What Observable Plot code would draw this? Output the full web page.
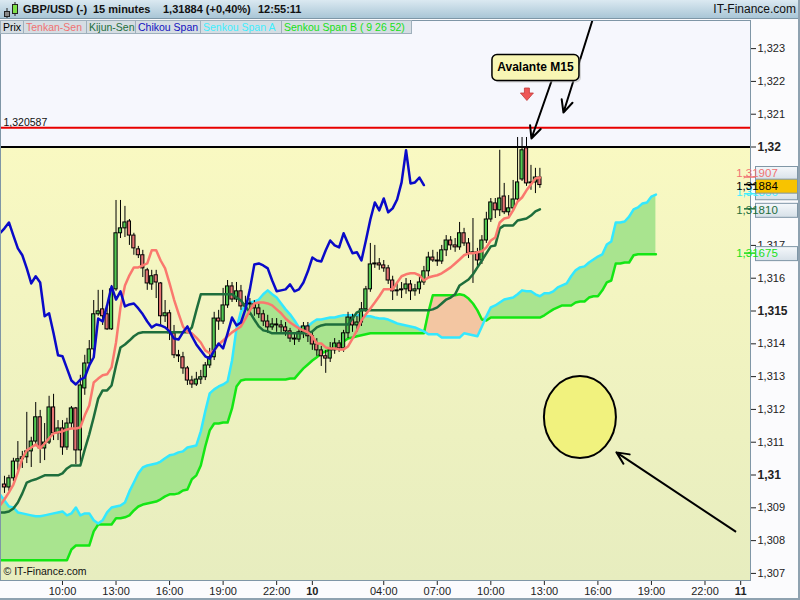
<!DOCTYPE html>
<html>
<head>
<meta charset="utf-8">
<script src="https://cdn.jsdelivr.net/npm/d3@7"></script>
<script src="https://cdn.jsdelivr.net/npm/@observablehq/plot@0.6"></script>
<style>
  body { margin: 0; background: #fff; font-family: "Liberation Sans", Arial, sans-serif; }
  #wrap { position: relative; width: 800px; height: 600px; overflow: hidden; background: #fbfbfd; }
  #head { position: absolute; left: 0; top: 0; width: 800px; height: 19px; box-sizing: border-box;
          background: linear-gradient(#dbe9f1, #a9c6d6); border-bottom: 1px solid #7e97a7;
          font-size: 11px; font-weight: bold; color: #111; }
  #head span { position: absolute; top: 3px; white-space: pre; }
  #head .site { right: 4px; font-weight: normal; font-size: 12px; top: 2px; }
  #head svg { position: absolute; left: 2px; top: 2px; }
  #legend { position: absolute; left: 0; top: 20px; display: flex; z-index: 2; }
  #legend span { box-sizing: border-box; height: 14px; line-height: 13px; font-size: 10.5px; padding-left: 2px;
                 background: #d5dde3; border: 1px solid #9fb0bc; border-left: none; white-space: pre; }
  #legend span:first-child { border-left: 1px solid #9fb0bc; }
  #chart { position: absolute; left: 0; top: 20px; }
  #edge { position: absolute; left: 0; top: 0; width: 800px; height: 600px; box-sizing: border-box;
          border-right: 2px solid #8fa2b0; border-bottom: 2px solid #8fa2b0; pointer-events: none; }
</style>
</head>
<body>
<div id="wrap">
  <div id="head">
    <svg width="16" height="16">
      <line x1="5" y1="6" x2="5" y2="16" stroke="#222"/>
      <rect x="2.5" y="9.5" width="5" height="5" fill="#888" stroke="#222"/>
      <line x1="13" y1="0" x2="13" y2="14" stroke="#222"/>
      <rect x="10.5" y="2.5" width="5" height="9" fill="#7ee04a" stroke="#222"/>
    </svg>
    <span style="left:23px">GBP/USD (-)</span>
    <span style="left:93px">15 minutes</span>
    <span style="left:163px">1,31884 (+0,40%)</span>
    <span style="left:258px">12:55:11</span>
    <span class="site">IT-Finance.com</span>
  </div>
  <div id="legend">
    <span style="width:24px;color:#000">Prix</span>
    <span style="width:63px;color:#f07272">Tenkan-Sen</span>
    <span style="width:49px;color:#1e6e3c">Kijun-Sen</span>
    <span style="width:65px;color:#1212c0">Chikou Span</span>
    <span style="width:81px;color:#3eeeff">Senkou Span A</span>
    <span style="width:130px;color:#18e018">Senkou Span B ( 9 26 52)</span>
  </div>
  <div id="chart"></div>
  <div id="edge"></div>
</div>
<script>
// 15 minute bars, GBP/USD, first bar 06:45 on the 9th (x unit = hours since the 9th 00:00)
const barStart = 6.75
const barStep = 0.25
const barTime = i => barStart + i * barStep

const open = [1.30971,1.30962,1.30990,1.31041,1.31048,1.31054,1.31072,1.31102,1.31176,1.31081,
  1.31099,1.31206,1.31127,1.31142,1.31084,1.31157,1.31203,1.31075,1.31264,1.31340,
  1.31383,1.31490,1.31505,1.31490,1.31444,1.31566,1.31737,1.31752,1.31773,1.31730,
  1.31688,1.31670,1.31624,1.31581,1.31609,1.31584,1.31484,1.31493,1.31432,1.31365,
  1.31359,1.31325,1.31288,1.31276,1.31291,1.31298,1.31334,1.31359,1.31477,1.31468,
  1.31517,1.31575,1.31535,1.31560,1.31514,1.31520,1.31520,1.31508,1.31490,1.31468,
  1.31450,1.31459,1.31456,1.31450,1.31438,1.31416,1.31413,1.31435,1.31453,1.31423,
  1.31398,1.31380,1.31362,1.31355,1.31380,1.31401,1.31386,1.31432,1.31480,1.31456,
  1.31465,1.31505,1.31566,1.31642,1.31645,1.31639,1.31630,1.31593,1.31560,1.31563,
  1.31566,1.31581,1.31560,1.31566,1.31587,1.31621,1.31663,1.31654,1.31651,1.31685,
  1.31715,1.31700,1.31694,1.31737,1.31706,1.31676,1.31679,1.31654,1.31715,1.31779,
  1.31828,1.31807,1.31849,1.31801,1.31813,1.31840,1.31901,1.31996,1.31889,1.31892,
  1.31907]
const high = [1.30996,1.30999,1.31051,1.31102,1.31072,1.31191,1.31115,1.31221,1.31197,1.31157,
  1.31240,1.31246,1.31166,1.31166,1.31173,1.31209,1.31206,1.31304,1.31365,1.31410,
  1.31532,1.31563,1.31563,1.31511,1.31578,1.31837,1.31837,1.31819,1.31779,1.31737,
  1.31697,1.31685,1.31630,1.31624,1.31624,1.31587,1.31532,1.31502,1.31456,1.31380,
  1.31374,1.31331,1.31301,1.31313,1.31319,1.31343,1.31386,1.31496,1.31502,1.31569,
  1.31593,1.31587,1.31587,1.31578,1.31545,1.31538,1.31532,1.31523,1.31502,1.31487,
  1.31477,1.31477,1.31471,1.31465,1.31447,1.31432,1.31447,1.31465,1.31465,1.31435,
  1.31416,1.31392,1.31380,1.31404,1.31416,1.31410,1.31441,1.31496,1.31490,1.31484,
  1.31526,1.31575,1.31706,1.31700,1.31660,1.31654,1.31639,1.31606,1.31584,1.31587,
  1.31599,1.31593,1.31581,1.31606,1.31636,1.31679,1.31685,1.31679,1.31700,1.31730,
  1.31727,1.31721,1.31770,1.31752,1.31721,1.31782,1.31691,1.31730,1.31801,1.31843,
  1.31843,1.31990,1.31889,1.31852,1.31898,1.32029,1.32029,1.32029,1.31944,1.31935,
  1.31935]
const low = [1.30944,1.30950,1.30980,1.31014,1.31020,1.31035,1.31023,1.31093,1.31035,1.31044,
  1.31093,1.31105,1.31105,1.31060,1.31075,1.31142,1.31032,1.31038,1.31243,1.31331,
  1.31374,1.31484,1.31456,1.31441,1.31441,1.31560,1.31721,1.31724,1.31700,1.31670,
  1.31660,1.31602,1.31563,1.31563,1.31538,1.31456,1.31465,1.31410,1.31355,1.31343,
  1.31307,1.31273,1.31264,1.31270,1.31276,1.31288,1.31325,1.31349,1.31441,1.31459,
  1.31508,1.31526,1.31526,1.31502,1.31496,1.31487,1.31484,1.31477,1.31453,1.31432,
  1.31441,1.31435,1.31432,1.31423,1.31404,1.31395,1.31404,1.31416,1.31404,1.31380,
  1.31362,1.31331,1.31310,1.31343,1.31368,1.31374,1.31374,1.31416,1.31435,1.31435,
  1.31453,1.31496,1.31557,1.31630,1.31624,1.31618,1.31581,1.31532,1.31545,1.31538,
  1.31551,1.31532,1.31545,1.31551,1.31578,1.31602,1.31648,1.31636,1.31642,1.31666,
  1.31685,1.31679,1.31685,1.31697,1.31660,1.31584,1.31636,1.31642,1.31706,1.31770,
  1.31782,1.31788,1.31794,1.31788,1.31807,1.31834,1.31895,1.31880,1.31868,1.31858,
  1.31874]
const close = [1.30962,1.30990,1.31041,1.31048,1.31054,1.31072,1.31102,1.31176,1.31081,1.31099,
  1.31206,1.31127,1.31142,1.31084,1.31157,1.31203,1.31075,1.31273,1.31340,1.31383,
  1.31490,1.31499,1.31484,1.31444,1.31566,1.31737,1.31752,1.31770,1.31730,1.31691,
  1.31670,1.31630,1.31584,1.31606,1.31587,1.31484,1.31493,1.31432,1.31365,1.31362,
  1.31325,1.31288,1.31276,1.31291,1.31298,1.31334,1.31359,1.31477,1.31468,1.31517,
  1.31575,1.31535,1.31560,1.31514,1.31520,1.31523,1.31508,1.31490,1.31468,1.31450,
  1.31459,1.31456,1.31450,1.31438,1.31416,1.31413,1.31435,1.31453,1.31423,1.31398,
  1.31380,1.31362,1.31355,1.31380,1.31401,1.31386,1.31432,1.31480,1.31456,1.31465,
  1.31505,1.31566,1.31642,1.31645,1.31639,1.31630,1.31593,1.31560,1.31563,1.31566,
  1.31581,1.31560,1.31566,1.31587,1.31621,1.31663,1.31654,1.31651,1.31685,1.31715,
  1.31700,1.31694,1.31737,1.31706,1.31676,1.31679,1.31654,1.31715,1.31779,1.31831,
  1.31807,1.31843,1.31801,1.31813,1.31840,1.31892,1.31990,1.31889,1.31892,1.31907,
  1.31884]

// Ichimoku lines, one value per bar starting one bar before the first candle
const tenkan = [1.30907,1.30926,1.30947,1.30971,1.31008,1.31051,1.31075,1.31084,1.31093,1.31081,
  1.31096,1.31112,1.31127,1.31130,1.31133,1.31139,1.31142,1.31142,1.31145,1.31182,
  1.31212,1.31282,1.31294,1.31304,1.31307,1.31328,1.31404,1.31511,1.31578,1.31609,
  1.31633,1.31633,1.31639,1.31645,1.31685,1.31685,1.31654,1.31630,1.31584,1.31535,
  1.31493,1.31453,1.31435,1.31432,1.31419,1.31404,1.31380,1.31371,1.31380,1.31398,
  1.31410,1.31423,1.31435,1.31444,1.31453,1.31477,1.31502,1.31523,1.31526,1.31526,
  1.31523,1.31517,1.31505,1.31493,1.31477,1.31465,1.31456,1.31447,1.31441,1.31435,
  1.31423,1.31401,1.31401,1.31389,1.31386,1.31386,1.31383,1.31383,1.31392,1.31416,
  1.31441,1.31471,1.31490,1.31508,1.31526,1.31545,1.31566,1.31566,1.31566,1.31587,
  1.31606,1.31612,1.31615,1.31615,1.31609,1.31593,1.31602,1.31606,1.31609,1.31615,
  1.31624,1.31633,1.31645,1.31657,1.31670,1.31676,1.31676,1.31679,1.31682,1.31694,
  1.31715,1.31724,1.31770,1.31782,1.31785,1.31807,1.31834,1.31846,1.31868,1.31886,
  1.31904,1.31907]
const kijun = [1.30886,1.30886,1.30889,1.30898,1.30916,1.30944,1.30977,1.30983,1.30987,1.30993,
  1.30999,1.30999,1.30999,1.30999,1.31005,1.31020,1.31029,1.31029,1.31029,1.31078,
  1.31124,1.31176,1.31233,1.31258,1.31258,1.31273,1.31334,1.31389,1.31398,1.31410,
  1.31423,1.31432,1.31435,1.31435,1.31435,1.31435,1.31435,1.31435,1.31435,1.31435,
  1.31435,1.31435,1.31435,1.31450,1.31502,1.31551,1.31551,1.31551,1.31551,1.31551,
  1.31551,1.31551,1.31551,1.31541,1.31532,1.31514,1.31496,1.31474,1.31453,1.31441,
  1.31438,1.31432,1.31432,1.31432,1.31432,1.31432,1.31432,1.31432,1.31432,1.31432,
  1.31438,1.31450,1.31456,1.31459,1.31459,1.31459,1.31459,1.31459,1.31459,1.31477,
  1.31496,1.31502,1.31502,1.31502,1.31502,1.31502,1.31502,1.31502,1.31502,1.31502,
  1.31502,1.31502,1.31502,1.31502,1.31502,1.31502,1.31502,1.31505,1.31511,1.31523,
  1.31535,1.31541,1.31551,1.31578,1.31587,1.31596,1.31612,1.31633,1.31654,1.31676,
  1.31697,1.31700,1.31752,1.31761,1.31761,1.31761,1.31776,1.31779,1.31782,1.31791,
  1.31804,1.31810]
// Senkou spans run 26 bars past the last candle
const senkouA = [1.30941,1.30922,1.30904,1.30901,1.30886,1.30883,1.30880,1.30877,1.30874,1.30874,
  1.30877,1.30880,1.30883,1.30886,1.30889,1.30877,1.30883,1.30901,1.30877,1.30883,
  1.30883,1.30862,1.30852,1.30862,1.30886,1.30901,1.30904,1.30907,1.30916,1.30950,
  1.30977,1.31005,1.31023,1.31029,1.31032,1.31035,1.31041,1.31051,1.31060,1.31063,
  1.31069,1.31072,1.31084,1.31087,1.31090,1.31133,1.31194,1.31249,1.31261,1.31270,
  1.31276,1.31285,1.31349,1.31447,1.31499,1.31517,1.31526,1.31529,1.31535,1.31551,
  1.31563,1.31551,1.31541,1.31523,1.31505,1.31490,1.31471,1.31450,1.31450,1.31453,
  1.31465,1.31474,1.31474,1.31477,1.31480,1.31480,1.31484,1.31487,1.31487,1.31487,
  1.31487,1.31487,1.31484,1.31484,1.31480,1.31477,1.31477,1.31474,1.31468,1.31462,
  1.31459,1.31456,1.31453,1.31450,1.31444,1.31438,1.31429,1.31429,1.31429,1.31419,
  1.31419,1.31419,1.31419,1.31419,1.31432,1.31429,1.31426,1.31423,1.31453,1.31484,
  1.31511,1.31517,1.31526,1.31535,1.31538,1.31541,1.31551,1.31563,1.31560,1.31560,
  1.31551,1.31545,1.31554,1.31554,1.31560,1.31572,1.31578,1.31584,1.31606,1.31624,
  1.31633,1.31636,1.31648,1.31657,1.31666,1.31673,1.31703,1.31712,1.31770,1.31770,
  1.31773,1.31788,1.31810,1.31816,1.31828,1.31831,1.31849,1.31855]
const senkouB = [1.30740,1.30740,1.30740,1.30740,1.30740,1.30740,1.30740,1.30740,1.30740,1.30740,
  1.30740,1.30740,1.30740,1.30740,1.30740,1.30740,1.30773,1.30785,1.30785,1.30785,
  1.30785,1.30828,1.30849,1.30849,1.30849,1.30849,1.30868,1.30868,1.30871,1.30877,
  1.30892,1.30904,1.30910,1.30913,1.30916,1.30919,1.30926,1.30935,1.30941,1.30941,
  1.30944,1.30953,1.30956,1.30987,1.30999,1.31029,1.31087,1.31136,1.31157,1.31157,
  1.31160,1.31160,1.31203,1.31270,1.31288,1.31291,1.31291,1.31291,1.31291,1.31291,
  1.31291,1.31291,1.31291,1.31291,1.31291,1.31294,1.31294,1.31310,1.31325,1.31337,
  1.31349,1.31359,1.31371,1.31377,1.31383,1.31392,1.31398,1.31407,1.31416,1.31419,
  1.31423,1.31426,1.31429,1.31432,1.31432,1.31432,1.31432,1.31432,1.31432,1.31432,
  1.31432,1.31432,1.31432,1.31432,1.31432,1.31432,1.31496,1.31548,1.31548,1.31548,
  1.31548,1.31548,1.31548,1.31551,1.31548,1.31538,1.31523,1.31502,1.31474,1.31471,
  1.31480,1.31480,1.31480,1.31480,1.31480,1.31480,1.31480,1.31480,1.31480,1.31480,
  1.31480,1.31480,1.31487,1.31496,1.31505,1.31511,1.31517,1.31517,1.31517,1.31526,
  1.31529,1.31529,1.31541,1.31545,1.31545,1.31563,1.31587,1.31593,1.31645,1.31645,
  1.31648,1.31648,1.31670,1.31673,1.31673,1.31673,1.31673,1.31673]
const chikouShift = 26

// horizontal levels drawn on the chart
const blackLevel = 1.32
const redLevel = 1.320587

// axes (1,318 and 1,319 sit under the price tags)
const xDomain = [6.527, 48.55]
const yDomain = [1.306784, 1.323857]
const xTicks = [10, 13, 16, 19, 22, 24, 28, 31, 34, 37, 40, 43, 46, 48]
const yTicks = [1.307, 1.308, 1.309, 1.31, 1.311, 1.312, 1.313, 1.314, 1.315, 1.316,
  1.317, 1.32, 1.321, 1.322, 1.323]

// right axis price tags
const tagValues = [1.31907, 1.31856, 1.31810, 1.31675, 1.31884]
const tagLabels = ["1,31907", "1,31856", "1,31810", "1,31675", "1,31884"]

// drawn annotations (hours, price)
const arrowX1 = [37.51, 39.69, 47.70]
const arrowY1 = [1.32218, 1.323857, 1.30828]
const arrowX2 = [36.275, 38.07, 41.04]
const arrowY2 = [1.32026, 1.32105, 1.31069]
const calloutAt = [36.50, 1.32244]
const calloutText = "Avalante M15"
const redArrowAt = [36.05, 1.32157]
const circleAt = [39.02, 1.31175]

const bars = open.map((o, i) => ({t: barTime(i), o, h: high[i], l: low[i], c: close[i]}))
const tenkanLine = tenkan.map((v, k) => ({t: barTime(k - 1), v}))
const kijunLine = kijun.map((v, k) => ({t: barTime(k - 1), v}))
const cloud = senkouA.map((a, k) => ({t: barTime(k - 1), a, b: senkouB[k]}))
const chikou = close.map((v, i) => ({i, t: barTime(i - chikouShift), v})).filter(d => d.i >= chikouShift - 1)
const arrows = arrowX1.map((x, k) => ({x1: x, y1: arrowY1[k], x2: arrowX2[k], y2: arrowY2[k]}))

const fmtHour = h => h % 24 === 0 ? String(9 + h / 24) : String(h % 24).padStart(2, "0") + ":00"
const fmtPrice = v => d3.format(".3~f")(v).replace(".", ",")

const chart = Plot.plot({
  width: 800,
  height: 580,
  marginTop: 0,
  marginLeft: 0,
  marginRight: 50,
  marginBottom: 20,
  style: {
    fontFamily: '"Liberation Sans", Arial, sans-serif',
    fontSize: "11px",
    color: "#222",
    background: "#fbfbfd",
  },
  x: {domain: xDomain, ticks: xTicks, tickFormat: fmtHour, tickSize: 5, tickPadding: 2, label: null},
  y: {domain: yDomain, axis: "right", ticks: yTicks, tickFormat: fmtPrice, tickSize: 5, tickPadding: 2, label: null},
  marks: [
    Plot.rect([blackLevel], {x1: xDomain[0], x2: xDomain[1], y1: d => d, y2: yDomain[1], fill: "#f6f7fd"}),
    Plot.rect([blackLevel], {x1: xDomain[0], x2: xDomain[1], y1: yDomain[0], y2: d => d, fill: "url(#zone)"}),
    // cloud: green where span A is above span B, peach where B is above A
    Plot.areaY(cloud, {x: "t", y1: "b", y2: d => Math.max(d.a, d.b), fill: "#a9e48f", clip: true}),
    Plot.areaY(cloud, {x: "t", y1: "a", y2: d => Math.max(d.a, d.b), fill: "#f3c6a2", clip: true}),
    Plot.line(cloud, {x: "t", y: "b", stroke: "#14e614", strokeWidth: 2.5, clip: true}),
    Plot.line(cloud, {x: "t", y: "a", stroke: "#33e8ff", strokeWidth: 2.5, clip: true}),
    Plot.ruleY([redLevel], {stroke: "#e80000", strokeWidth: 2}),
    Plot.ruleY([blackLevel], {stroke: "#000", strokeWidth: 2}),
    Plot.text([redLevel], {y: d => d, frameAnchor: "left", text: d => String(d).replace(".", ","),
      textAnchor: "start", dx: 3, dy: -5.5, fontSize: 10.5, fill: "#111"}),
    // candles
    Plot.ruleX(bars, {x: "t", y1: "l", y2: "h", stroke: "#000", strokeWidth: 1}),
    Plot.rect(bars, {filter: d => d.c >= d.o, x1: d => d.t - 0.09, x2: d => d.t + 0.09, y1: "o", y2: "c",
      fill: "#52c852", stroke: "#000", strokeWidth: 1}),
    Plot.rect(bars, {filter: d => d.c < d.o, x1: d => d.t - 0.09, x2: d => d.t + 0.09, y1: "o", y2: "c",
      fill: "#e67474", stroke: "#000", strokeWidth: 1}),
    Plot.line(kijunLine, {x: "t", y: "v", stroke: "#1e6e3c", strokeWidth: 2.5, clip: true}),
    Plot.line(tenkanLine, {x: "t", y: "v", stroke: "#fa786e", strokeWidth: 2.5, clip: true}),
    Plot.line(chikou, {x: "t", y: "v", stroke: "#0a0ac8", strokeWidth: 2.5, clip: true}),
    Plot.arrow(arrows, {x1: "x1", y1: "y1", x2: "x2", y2: "y2", stroke: "#000", strokeWidth: 2,
      headLength: 10, headAngle: 50, bend: 0}),
    Plot.text(["© IT-Finance.com"], {frameAnchor: "bottom-left", text: d => d, textAnchor: "start",
      dx: 3, dy: -6, fontSize: 10.5, fill: "#111"}),
    Plot.frame({stroke: "#7f96a6"}),
  ],
})

const svg = d3.select(chart)
const defs = svg.insert("defs", ":first-child")
const zone = defs.append("linearGradient").attr("id", "zone").attr("x1", 0).attr("y1", 0).attr("x2", 0).attr("y2", 1)
zone.append("stop").attr("offset", "0%").attr("stop-color", "#f9f9c2")
zone.append("stop").attr("offset", "100%").attr("stop-color", "#e7edbf")
const tagbg = defs.append("linearGradient").attr("id", "tagbg").attr("x1", 0).attr("y1", 0).attr("x2", 0).attr("y2", 1)
tagbg.append("stop").attr("offset", "0%").attr("stop-color", "#f5f8fb")
tagbg.append("stop").attr("offset", "100%").attr("stop-color", "#d6e0e8")

// bold axis labels on round levels and day changes
svg.selectAll("text").each(function () {
  const s = this.textContent
  if (["1,31", "1,315", "1,32"].includes(s)) d3.select(this).attr("font-weight", "bold").attr("font-size", 12)
  if (["10", "11"].includes(s)) d3.select(this).attr("font-weight", "bold")
})

const sx = chart.scale("x")
const sy = chart.scale("y")
const px = v => sx.apply(v)
const py = v => sy.apply(v)

// yellow circle
svg.append("ellipse")
  .attr("cx", px(circleAt[0])).attr("cy", py(circleAt[1]))
  .attr("rx", 36).attr("ry", 41)
  .attr("fill", "#f1f27e").attr("stroke", "#000").attr("stroke-width", 2)

// small red arrow pointing down
{
  const x = px(redArrowAt[0]), y = py(redArrowAt[1])
  svg.append("path")
    .attr("d", `M${x - 2.5},${y - 7}h5v5h4l-6.5,7.5l-6.5,-7.5h4z`)
    .attr("fill", "#ee5656").attr("stroke", "#c23a3a").attr("stroke-width", 0.8)
}

// callout
{
  const x = px(calloutAt[0]), y = py(calloutAt[1])
  svg.append("rect").attr("x", x - 43 + 2).attr("y", y - 12 + 2).attr("width", 87).attr("height", 26)
    .attr("rx", 5).attr("fill", "#b8b8b8").attr("opacity", 0.6)
  svg.append("rect").attr("x", x - 43).attr("y", y - 12).attr("width", 87).attr("height", 26)
    .attr("rx", 5).attr("fill", "#f8f6b4").attr("stroke", "#000").attr("stroke-width", 1.5)
  svg.append("text").attr("x", x + 0.5).attr("y", y + 1).attr("text-anchor", "middle")
    .attr("dominant-baseline", "middle").attr("font-weight", "bold").attr("font-size", 12)
    .attr("fill", "#000").text(calloutText)
}

// price tags on the right axis
const tagColors = ["#f07272", "#3eeeff", "#1e6e3c", "#18e018", "#000"]
const tagFills = ["url(#tagbg)", "url(#tagbg)", "url(#tagbg)", "url(#tagbg)", "#f8c300"]
const tagNudge = [-3.5, -1, 1.5, 0.5, 1.6]
tagValues.forEach((v, k) => {
  const y = py(v) + tagNudge[k]
  svg.append("line").attr("x1", 744).attr("x2", 756).attr("y1", py(v)).attr("y2", py(v))
    .attr("stroke", k === 4 ? "#000" : tagColors[k]).attr("stroke-width", 1.5)
  svg.append("rect").attr("x", 755.5).attr("y", y - 7).attr("width", 42).attr("height", 14)
    .attr("fill", tagFills[k]).attr("stroke", "#7f96a6")
  svg.append("text").attr("x", 757).attr("y", y + 0.5).attr("dominant-baseline", "middle")
    .attr("font-size", 11.5).attr("fill", tagColors[k]).text(tagLabels[k])
})

document.getElementById("chart").append(chart)
</script>
</body>
</html>
